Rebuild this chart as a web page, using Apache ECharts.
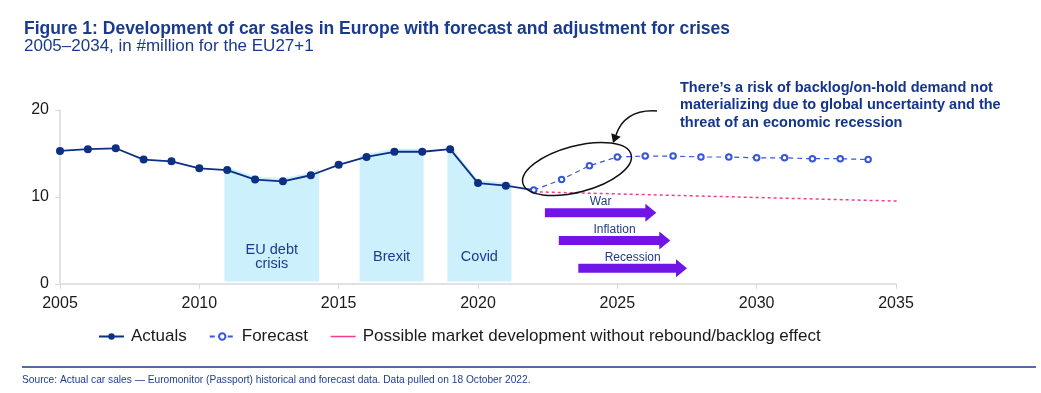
<!DOCTYPE html>
<html>
<head>
<meta charset="utf-8">
<script src="https://cdn.jsdelivr.net/npm/echarts@6/dist/echarts.min.js"></script>
<style>
html,body{margin:0;padding:0;background:#fff;}
#chart{width:1041px;height:393px;}
</style>
</head>
<body>
<div id="chart"></div>
<script>
// ---- data ----
const actualYears = [2005,2006,2007,2008,2009,2010,2011,2012,2013,2014,2015,2016,2017,2018,2019,2020,2021];
const actualValues = [15.3,15.5,15.6,14.3,14.1,13.3,13.1,12.0,11.8,12.5,13.7,14.6,15.2,15.2,15.5,11.6,11.3];
const forecastYears = [2022,2023,2024,2025,2026,2027,2028,2029,2030,2031,2032,2033,2034];
const forecastValues = [10.8,12.0,13.6,14.6,14.7,14.7,14.6,14.6,14.5,14.5,14.4,14.4,14.3];
const noReboundYears = [2022,2035.4];
const noReboundValues = [10.6,9.5];
const crisisNames = ['EU debt\ncrisis','Brexit','Covid'];
const crisisStart = [2010.9,2015.75,2018.9];
const crisisEnd = [2014.3,2018.05,2021.2];
const riskNames = ['War','Inflation','Recession'];
const riskStart = [2022.4,2022.9,2023.6];
const riskEnd = [2026.4,2026.9,2027.5];
const riskLevel = [8.2,5.0,1.8];
const xTicks = [2005,2010,2015,2020,2025,2030,2035];
const yTicks = [0,10,20];

const NAVY = '#0d2f84';
const TXT = '#1f3a8f';
const FONT = 'Liberation Sans, Arial, sans-serif';

function interpActual(x){
  for(let i=0;i<actualYears.length-1;i++){
    if(x>=actualYears[i] && x<=actualYears[i+1]){
      const t=(x-actualYears[i])/(actualYears[i+1]-actualYears[i]);
      return actualValues[i]+t*(actualValues[i+1]-actualValues[i]);
    }
  }
  return actualValues[actualValues.length-1];
}

const chart = echarts.init(document.getElementById('chart'));

const actualData = actualYears.map((y,i)=>[y,actualValues[i]]);
actualData.push({value:[forecastYears[0],forecastValues[0]],symbol:'none'});

const option = {
  animation:false,
  textStyle:{fontFamily:FONT},
  grid:{left:60,right:145,top:110,bottom:109,containLabel:false},
  xAxis:{
    type:'value',min:xTicks[0],max:xTicks[xTicks.length-1],interval:5,
    axisLine:{show:true,lineStyle:{color:'#d9d9d9',width:1.5}},
    axisTick:{show:true,length:5,lineStyle:{color:'#d9d9d9'}},
    splitLine:{show:false},
    axisLabel:{fontSize:16,color:'#1a1a1a',margin:12,formatter:v=>String(v)}
  },
  yAxis:{
    type:'value',min:yTicks[0],max:yTicks[yTicks.length-1],interval:10,
    axisLine:{show:true,lineStyle:{color:'#d9d9d9',width:1.5}},
    axisTick:{show:true,length:5,lineStyle:{color:'#d9d9d9'}},
    splitLine:{show:false},
    axisLabel:{fontSize:16,color:'#1a1a1a',margin:11}
  },
  legend:{
    left:93,top:323,itemWidth:25,itemHeight:8,itemGap:22,
    textStyle:{fontSize:17,color:'#1a1a1a',padding:[0,0,0,2]},
    data:[
      {name:'Actuals'},
      {name:'Forecast'},
      {name:'Possible market development without rebound/backlog effect',lineStyle:{type:'solid',width:1.5},itemStyle:{opacity:0}}
    ]
  },
  graphic:[
    {type:'text',left:24,top:20,style:{text:'Figure 1: Development of car sales in Europe with forecast and adjustment for crises',font:'bold 17.5px '+FONT,fill:'#1a3a8c'}},
    {type:'text',left:24,top:38,style:{text:'2005–2034, in #million for the EU27+1',font:'17px '+FONT,fill:'#1a3a8c'}},
    {type:'text',left:680,top:79,style:{text:'There’s a risk of backlog/on-hold demand not\nmaterializing due to global uncertainty and the\nthreat of an economic recession',font:'bold 14.5px '+FONT,fill:'#14358a',lineHeight:17.5}},
    {type:'ellipse',x:577,y:169,rotation:0.26,shape:{cx:0,cy:0,rx:56,ry:23},style:{fill:'none',stroke:'#111',lineWidth:1.5},z:10},
    {type:'bezierCurve',shape:{x1:657,y1:111,cpx1:625,cpy1:109,x2:616,y2:135},style:{stroke:'#111',lineWidth:1.5,fill:'none'},z:10},
    {type:'polygon',shape:{points:[[613,143],[620.7,136.7],[611.3,133.3]]},style:{fill:'#111'},z:10},
    {type:'line',shape:{x1:22,y1:367,x2:1036,y2:367},style:{stroke:'#1a3a8c',lineWidth:1.5}},
    {type:'text',left:22,top:375,style:{text:'Source: Actual car sales — Euromonitor (Passport) historical and forecast data. Data pulled on 18 October 2022.',font:'10.2px '+FONT,fill:'#1f3f8f'}}
  ],
  series:[
    {
      name:'crises',type:'custom',z:1,silent:true,
      data:crisisNames.map((n,i)=>[crisisStart[i],crisisEnd[i],0]),
      encode:{x:[0,1],y:2},
      renderItem:function(params,api){
        const i=params.dataIndex;
        const s=api.value(0), e=api.value(1);
        const off=0.35;
        const pts=[api.coord([s,0.3]),api.coord([s,interpActual(s)+off])];
        actualYears.forEach((y,k)=>{ if(y>s && y<e) pts.push(api.coord([y,actualValues[k]+off])); });
        pts.push(api.coord([e,interpActual(e)+off]));
        pts.push(api.coord([e,0.3]));
        const c=api.coord([(s+e)/2,3.1]);
        return {type:'group',children:[
          {type:'polygon',shape:{points:pts},style:{fill:'#ccf0fc'}},
          {type:'text',x:c[0],y:c[1],style:{text:crisisNames[i],fill:TXT,font:'14.5px '+FONT,align:'center',verticalAlign:'middle',lineHeight:13.5}}
        ]};
      }
    },
    {
      name:'Possible market development without rebound/backlog effect',type:'line',z:3,
      data:noReboundYears.map((y,i)=>[y,noReboundValues[i]]),
      symbol:'none',clip:false,
      lineStyle:{color:'#f23c8f',width:1.5,type:[3,3]},
      itemStyle:{color:'#f23c8f'}
    },
    {
      name:'Actuals',type:'line',z:4,data:actualData,
      symbol:'circle',symbolSize:8,
      lineStyle:{color:NAVY,width:1.8},itemStyle:{color:NAVY}
    },
    {
      name:'Forecast',type:'line',z:5,
      data:forecastYears.map((y,i)=>[y,forecastValues[i]]),
      symbol:'emptyCircle',symbolSize:5.5,
      lineStyle:{color:'#3656dc',width:1.2,type:[5,4]},
      itemStyle:{color:'#3656dc',borderWidth:1.5}
    },
    {
      name:'risks',type:'custom',z:6,silent:true,
      data:riskNames.map((n,i)=>[riskStart[i],riskEnd[i],riskLevel[i]]),
      encode:{x:[0,1],y:2},
      renderItem:function(params,api){
        const i=params.dataIndex;
        const a=api.coord([api.value(0),api.value(2)]);
        const b=api.coord([api.value(1),api.value(2)]);
        const hb=4.5, hh=9, hl=11;
        const pts=[[a[0],a[1]-hb],[b[0]-hl,a[1]-hb],[b[0]-hl,a[1]-hh],[b[0],a[1]],[b[0]-hl,a[1]+hh],[b[0]-hl,a[1]+hb],[a[0],a[1]+hb]];
        return {type:'group',children:[
          {type:'polygon',shape:{points:pts},style:{fill:'#7015e6'}},
          {type:'text',x:(a[0]+b[0])/2,y:a[1]-11,style:{text:riskNames[i],fill:TXT,font:'12px '+FONT,align:'center',verticalAlign:'middle'}}
        ]};
      }
    }
  ]
};
chart.setOption(option);
</script>
</body>
</html>
